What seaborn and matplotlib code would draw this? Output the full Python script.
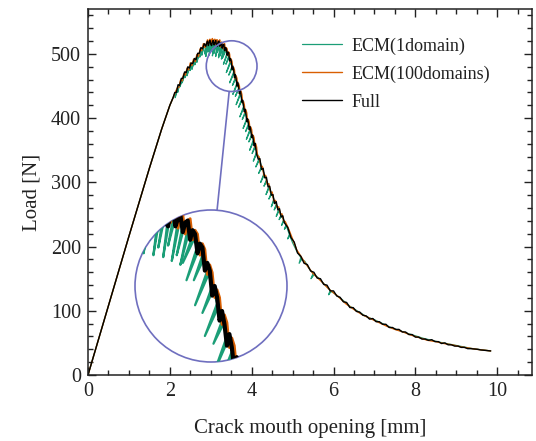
import numpy as np
import pandas as pd
import matplotlib
matplotlib.use("Agg")
import matplotlib.pyplot as plt
from matplotlib.patches import Circle, Ellipse, ConnectionPatch
from matplotlib.ticker import MultipleLocator
import seaborn as sns

# ---------------- data ----------------
full_x = [0.0, 0.5, 1.0, 1.5, 1.8, 2.0, 2.08,
          2.12, 2.16, 2.20, 2.24, 2.28, 2.32, 2.36, 2.40, 2.44, 2.48, 2.52, 2.56, 2.60, 2.64,
          2.68, 2.72, 2.76, 2.80, 2.84,
          2.88, 2.90, 2.92, 2.94, 2.96, 2.98, 3.00, 3.02, 3.04, 3.06, 3.08, 3.10, 3.12, 3.14,
          3.16, 3.18, 3.20, 3.22, 3.24, 3.26, 3.28, 3.30, 3.32, 3.34, 3.36, 3.38, 3.40, 3.42,
          3.44, 3.46, 3.48, 3.50, 3.52, 3.54, 3.56, 3.58, 3.60, 3.62, 3.64, 3.66, 3.68, 3.70,
          3.72, 3.74, 3.76, 3.78, 3.80, 3.82, 3.84, 3.86, 3.88, 3.90, 3.92, 3.94, 3.96, 3.98,
          4.00, 4.02, 4.04, 4.06, 4.08, 4.10, 4.12,
          4.16, 4.20, 4.24, 4.28, 4.32, 4.36, 4.40, 4.44, 4.48, 4.52, 4.56, 4.60, 4.64, 4.68,
          4.72, 4.76, 4.80,
          4.88, 4.96, 5.04, 5.12, 5.20, 5.28, 5.36, 5.44, 5.52, 5.60, 5.68, 5.76, 5.84, 5.92,
          6.00, 6.08, 6.16, 6.24, 6.32, 6.40, 6.48, 6.56, 6.64, 6.72, 6.80, 6.88, 6.96, 7.04,
          7.12, 7.20, 7.28, 7.36, 7.44, 7.52, 7.60, 7.68, 7.76, 7.84, 7.92, 8.00, 8.08, 8.16,
          8.24, 8.32, 8.40, 8.48, 8.56, 8.64, 8.72, 8.80, 8.88, 8.96, 9.04, 9.12, 9.20, 9.28,
          9.36, 9.44, 9.52, 9.60, 9.68, 9.76, 9.84]
full_y = [0, 108, 216, 322, 383, 420, 432,
          440, 440, 452, 451, 462, 462, 472, 471, 480, 478, 486, 485, 493, 491,
          501, 501, 510, 508, 516,
          512, 517, 520, 513, 518, 521, 515, 513, 519, 521, 514, 517, 521, 514,
          512, 519, 520, 512, 516, 518, 509, 514, 515, 505, 510, 508, 498, 503,
          501, 489, 493, 489, 476, 481, 475, 463, 468, 461, 450, 456, 449, 438,
          444, 436, 425, 428, 420, 410, 414, 406, 395, 399, 392, 382, 387, 380,
          370, 374, 367, 357, 361, 353, 344,
          336, 337, 320, 322, 307, 308, 293, 294, 280, 281, 267, 270, 257, 259,
          246, 248, 237,
          230, 214, 207, 190, 185, 174, 172, 162, 160, 151, 150, 141, 140, 131,
          131, 123, 121, 114, 113, 105, 105, 99, 98, 93, 92, 87, 88, 83,
          83, 79, 79, 74, 74, 71, 71, 67, 67, 63, 63, 59, 59, 56,
          56, 54, 55, 52, 52, 49, 50, 47, 47, 45, 45, 43, 43, 41,
          41, 40.5, 40, 39, 38.5, 38, 37.5]

ecm1_x = [0.0, 0.5, 1.0, 1.5, 1.8, 2.0, 2.08,
          2.16, 2.13, 2.17, 2.22, 2.19, 2.23, 2.28, 2.25, 2.29, 2.34, 2.30, 2.35,
          2.40, 2.37, 2.41, 2.46, 2.42, 2.47, 2.52, 2.49, 2.53, 2.58, 2.54, 2.59,
          2.64, 2.61, 2.65, 2.70, 2.66, 2.71, 2.76, 2.73, 2.77, 2.82, 2.78, 2.83,
          2.88, 2.85, 2.89, 2.92, 2.88, 2.93, 2.96, 2.93, 2.97, 3.00, 2.96, 3.01,
          3.04, 3.01, 3.05, 3.08, 3.04, 3.09, 3.12, 3.08, 3.13, 3.16, 3.12, 3.17,
          3.20, 3.16, 3.21, 3.24, 3.19, 3.25, 3.28, 3.23, 3.29, 3.32, 3.26, 3.33,
          3.36, 3.28, 3.37, 3.40, 3.31, 3.41, 3.44, 3.37, 3.45, 3.48, 3.38, 3.49,
          3.52, 3.44, 3.53, 3.56, 3.46, 3.57, 3.60, 3.53, 3.61, 3.64, 3.54, 3.65,
          3.68, 3.60, 3.69, 3.72, 3.62, 3.73, 3.76, 3.68, 3.77, 3.80, 3.71, 3.81,
          3.84, 3.77, 3.85, 3.88, 3.79, 3.89, 3.92, 3.85, 3.93, 3.96, 3.87, 3.97,
          4.00, 3.93, 4.01, 4.04, 3.95, 4.05, 4.08, 4.01, 4.09, 4.12, 4.04, 4.13,
          4.18, 4.10, 4.19, 4.24, 4.17, 4.25, 4.30, 4.22, 4.31, 4.36, 4.30, 4.37,
          4.42, 4.35, 4.43, 4.48, 4.42, 4.49, 4.54, 4.48, 4.55, 4.60, 4.55, 4.61,
          4.66, 4.60, 4.67, 4.72, 4.67, 4.73, 4.78, 4.73, 4.79, 4.84, 4.80, 4.85,
          4.92, 4.88, 4.93,
          5.00, 5.10, 5.20, 5.16, 5.22, 5.30, 5.40, 5.50, 5.45, 5.52, 5.60, 5.80, 5.92,
          5.88, 5.94, 6.00, 6.20, 6.40, 6.60, 6.80, 7.00, 7.40, 7.80, 8.20, 8.60, 9.00,
          9.40, 9.84]
ecm1_y = [0, 108, 216, 322, 383, 420, 432,
          443, 432, 441, 452, 440, 450, 460, 449, 458, 467, 455, 465,
          473, 463, 471, 479, 466, 477, 484, 474, 482, 489, 476, 487,
          494, 483, 492, 500, 487, 498, 507, 495, 505, 512, 498, 510,
          515, 500, 513, 516, 496, 514, 517, 503, 515, 518, 498, 516,
          518, 505, 516, 518, 497, 516, 518, 501, 516, 517, 496, 515,
          516, 502, 514, 515, 494, 513, 513, 497, 511, 511, 492, 509,
          507, 493, 505, 502, 484, 500, 497, 484, 495, 489, 471, 487,
          481, 467, 479, 472, 455, 470, 463, 451, 461, 455, 437, 453,
          447, 434, 445, 439, 421, 437, 430, 417, 428, 418, 402, 416,
          410, 398, 408, 400, 384, 398, 391, 379, 389, 383, 367, 381,
          375, 363, 373, 366, 350, 364, 357, 345, 355, 348, 333, 346,
          337, 324, 335, 325, 314, 323, 314, 300, 312, 304, 294, 302,
          294, 281, 292, 284, 274, 282, 274, 262, 272, 266, 257, 264,
          258, 247, 256, 250, 242, 248, 242, 233, 240, 234, 227, 232,
          219, 212, 217,
          206, 193, 183, 174, 180, 177, 166, 158, 150, 156, 153, 140, 132,
          125, 130, 128, 118, 107, 99, 91, 86, 74, 65, 57, 51, 46,
          41, 37.5]

ecm100_x = [0.0, 0.5, 1.0, 1.5, 1.8, 2.0, 2.08,
            2.14, 2.18, 2.22, 2.26, 2.30, 2.34, 2.38, 2.42, 2.46, 2.50, 2.54, 2.58, 2.62,
            2.66, 2.70, 2.74, 2.78, 2.82, 2.86,
            2.90, 2.92, 2.94, 2.96, 2.98, 3.00, 3.02, 3.04, 3.06, 3.08, 3.10, 3.12, 3.14,
            3.16, 3.18, 3.20, 3.22, 3.24, 3.26, 3.28, 3.30, 3.32, 3.34, 3.36, 3.38, 3.40,
            3.42, 3.44, 3.46, 3.48, 3.50, 3.52, 3.54, 3.56, 3.58, 3.60, 3.62, 3.64, 3.66,
            3.68, 3.70, 3.72, 3.74, 3.76, 3.78, 3.80, 3.82, 3.84, 3.86, 3.88, 3.90, 3.92,
            3.94, 3.96, 3.98, 4.00, 4.02, 4.04, 4.06, 4.08, 4.10, 4.12, 4.14,
            4.18, 4.22, 4.26, 4.30, 4.34, 4.38, 4.42, 4.46, 4.50, 4.54, 4.58, 4.62, 4.66,
            4.70, 4.74, 4.78, 4.82,
            4.90, 5.10, 5.30, 5.50, 5.70, 5.90, 6.10, 6.30, 6.50, 6.70, 6.90, 7.10, 7.30,
            7.50, 7.70, 7.90, 8.10, 8.30, 8.50, 8.70, 8.90, 9.10, 9.30, 9.50, 9.70, 9.84]
ecm100_y = [0, 108, 216, 322, 383, 420, 432,
            441, 447, 448, 459, 458, 469, 467, 478, 475, 486, 482, 492, 488,
            499, 496, 508, 505, 516, 510,
            518, 522, 514, 521, 523, 515, 521, 524, 516, 522, 523, 515, 522,
            522, 514, 520, 522, 511, 518, 518, 508, 515, 516, 505, 510, 508,
            497, 503, 500, 487, 492, 488, 475, 479, 475, 461, 466, 462, 449,
            454, 450, 437, 442, 437, 423, 426, 421, 408, 413, 408, 394, 398,
            394, 381, 386, 382, 369, 373, 369, 355, 360, 355, 342,
            340, 325, 325, 310, 311, 297, 298, 284, 285, 271, 272, 261, 262,
            250, 251, 240, 239,
            228, 195, 175, 158, 146, 133, 123, 111, 102, 94, 88, 82, 76,
            71, 67, 62, 58, 54, 52, 49, 47, 44, 42, 40, 38.5, 37.5]

series_names = ["ECM(1domain)", "ECM(100domains)", "Full"]
series_colors = ["#1b9e77", "#d95f02", "#000000"]

# ---------------- figure ----------------
sns.set_theme(style="ticks")
plt.rcParams["font.family"] = ["Liberation Serif", "DejaVu Serif"]

fig = plt.figure(figsize=(5.36, 4.41), dpi=100)
ax = fig.add_axes([88 / 536, 66 / 441, 444 / 536, 366 / 441])

frames = [
    pd.DataFrame({"x": ecm1_x, "y": ecm1_y, "s": series_names[0]}),
    pd.DataFrame({"x": ecm100_x, "y": ecm100_y, "s": series_names[1]}),
    pd.DataFrame({"x": full_x, "y": full_y, "s": series_names[2]}),
]

for df, name, col, lw in zip(frames, series_names, series_colors, [0.9, 1.0, 1.0]):
    sns.lineplot(data=df, x="x", y="y", ax=ax, color=col, lw=lw, sort=False,
                 estimator=None, label=name)

ax.set_xlim(0, 10.85)
ax.set_ylim(0, 570)
ax.xaxis.set_major_locator(MultipleLocator(2))
ax.xaxis.set_minor_locator(MultipleLocator(0.5))
ax.yaxis.set_major_locator(MultipleLocator(100))
ax.yaxis.set_minor_locator(MultipleLocator(20))
ax.tick_params(which="both", direction="in", top=True, right=True, colors="#222222",
               labelcolor="#222222")
ax.tick_params(which="major", length=6, width=1.0, labelsize=14.5, pad=5)
ax.tick_params(which="minor", length=3.5, width=1.0)
for sp in ax.spines.values():
    sp.set_linewidth(1.1)
    sp.set_color("#222222")

ax.set_xlabel("Crack mouth opening [mm]", fontsize=15, labelpad=13, color="#222222")
ax.set_ylabel("Load [N]", fontsize=15, labelpad=7, color="#222222")

leg = ax.legend(loc="upper left", bbox_to_anchor=(286 / 536, 1 - 21 / 441),
                bbox_transform=fig.transFigure, frameon=False, fontsize=13,
                handlelength=2.2, handletextpad=0.55, labelspacing=0.6)
for txt in leg.get_texts():
    txt.set_color("#222222")

# ---------------- zoom circle + inset ----------------
circ_col = "#6f6fbf"
zc_x, zc_y = 3.51, 481.0
zr_x, zr_y = 0.62, 39.5
ax.add_patch(Ellipse((zc_x, zc_y), 2 * zr_x, 2 * zr_y, fill=False, ec=circ_col,
                     lw=1.2, zorder=5))

axin = fig.add_axes([135 / 536, (441 - 362) / 441, 152 / 536, 152 / 441])
axin.set_xlim(zc_x - zr_x, zc_x + zr_x)
axin.set_ylim(zc_y - zr_y, zc_y + zr_y)
axin.axis("off")
clip = Circle((0.5, 0.5), 0.5, transform=axin.transAxes)
for df, col, lw in zip(frames, series_colors, [1.6, 2.0, 3.0]):
    sns.lineplot(data=df, x="x", y="y", ax=axin, color=col, lw=lw, sort=False,
                 estimator=None, legend=False)
for ln in axin.lines:
    ln.set_clip_path(clip)
axin.add_patch(Circle((0.5, 0.5), 0.5, transform=axin.transAxes, fill=False,
                      ec=circ_col, lw=1.2, clip_on=False))
axin.set_xlabel("")
axin.set_ylabel("")

con = ConnectionPatch(xyA=(3.45, zc_y - zr_y), coordsA=ax.transData,
                      xyB=(0.54, 1.0), coordsB=axin.transAxes,
                      color=circ_col, lw=1.2)
fig.add_artist(con)

fig.savefig("out.png", dpi=100)
